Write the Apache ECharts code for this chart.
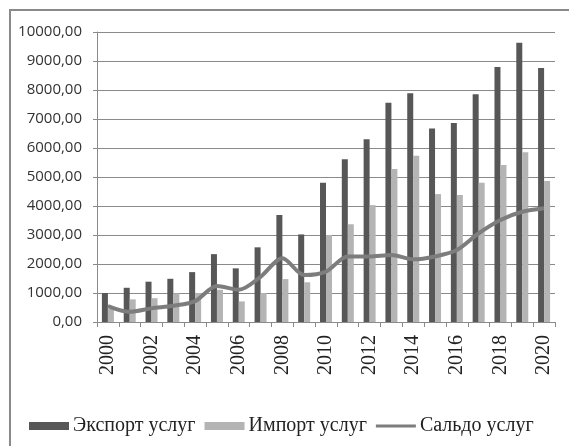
<!DOCTYPE html>
<html>
<head>
<meta charset="utf-8">
<script src="https://cdn.jsdelivr.net/npm/echarts@6/dist/echarts.min.js"></script>
<style>
html,body{margin:0;padding:0;background:#fff;}
#c{width:569px;height:446px;}
</style>
</head>
<body>
<div id="c"></div>
<script>
var years = ['2000','2001','2002','2003','2004','2005','2006','2007','2008','2009','2010','2011','2012','2013','2014','2015','2016','2017','2018','2019','2020'];
var exportServices = [1000,1180,1390,1490,1720,2340,1850,2575,3690,3020,4800,5610,6300,7560,7890,6670,6860,7850,8790,9630,8760];
var importServices = [450,780,820,990,1000,1110,710,1000,1480,1370,3000,3370,4030,5280,5730,4410,4380,4800,5410,5850,4860];
var balanceServices = [550,350,470,560,720,1240,1110,1560,2200,1620,1740,2260,2260,2310,2160,2260,2480,3060,3520,3800,3920];
var seriesNames = ['Экспорт услуг','Импорт услуг','Сальдо услуг'];

var chart = echarts.init(document.getElementById('c'), null, {renderer:'canvas'});
chart.setOption({
  animation:false,
  backgroundColor:'#fff',
  graphic:[{
    type:'rect', silent:true, z:-1,
    shape:{x:10,y:10,width:620,height:500},
    style:{fill:'none',stroke:'#8a8a8a',lineWidth:2}
  }],
  grid:{left:97,right:14,top:32,bottom:124,containLabel:false},
  legend:{
    left:24, top:411, width:900,
    itemWidth:40, itemHeight:8, itemGap:9,
    textStyle:{fontFamily:'Liberation Serif',fontSize:20,color:'#222',padding:[0,0,0,-1]},
    data:[
      {name:seriesNames[0],icon:'rect'},
      {name:seriesNames[1],icon:'rect'},
      {name:seriesNames[2],icon:'path://M0,0L40,0L40,3L0,3Z',itemStyle:{color:'#7d7d7d'}}
    ]
  },
  xAxis:{
    type:'category', data:years, boundaryGap:true,
    axisLine:{lineStyle:{color:'#8a8a8a',width:1}},
    axisTick:{show:true,interval:0,length:5,lineStyle:{color:'#8a8a8a'}},
    axisLabel:{interval:1,rotate:90,margin:13,fontFamily:'Liberation Serif',fontSize:20,color:'#222'}
  },
  yAxis:{
    type:'value', min:0, max:10000, interval:1000,
    axisLine:{show:true,lineStyle:{color:'#8a8a8a',width:1}},
    axisTick:{show:true,length:4,lineStyle:{color:'#8a8a8a'}},
    splitLine:{lineStyle:{color:'#8a8a8a',width:1}},
    axisLabel:{margin:15,fontFamily:'Open Sans',fontSize:15,color:'#333',
      formatter:function(v){return v.toFixed(2).replace('.',',');}}
  },
  series:[
    {name:seriesNames[0],type:'bar',data:exportServices,barWidth:6,barGap:'0%',
      itemStyle:{color:'#575757'}},
    {name:seriesNames[1],type:'bar',data:importServices,barWidth:6,barGap:'0%',
      itemStyle:{color:'#b4b4b4'}},
    {name:seriesNames[2],type:'line',data:balanceServices,smooth:0.3,symbol:'none',showSymbol:false,
      lineStyle:{color:'#7d7d7d',width:4},itemStyle:{color:'#7d7d7d'}}
  ]
});
</script>
</body>
</html>
